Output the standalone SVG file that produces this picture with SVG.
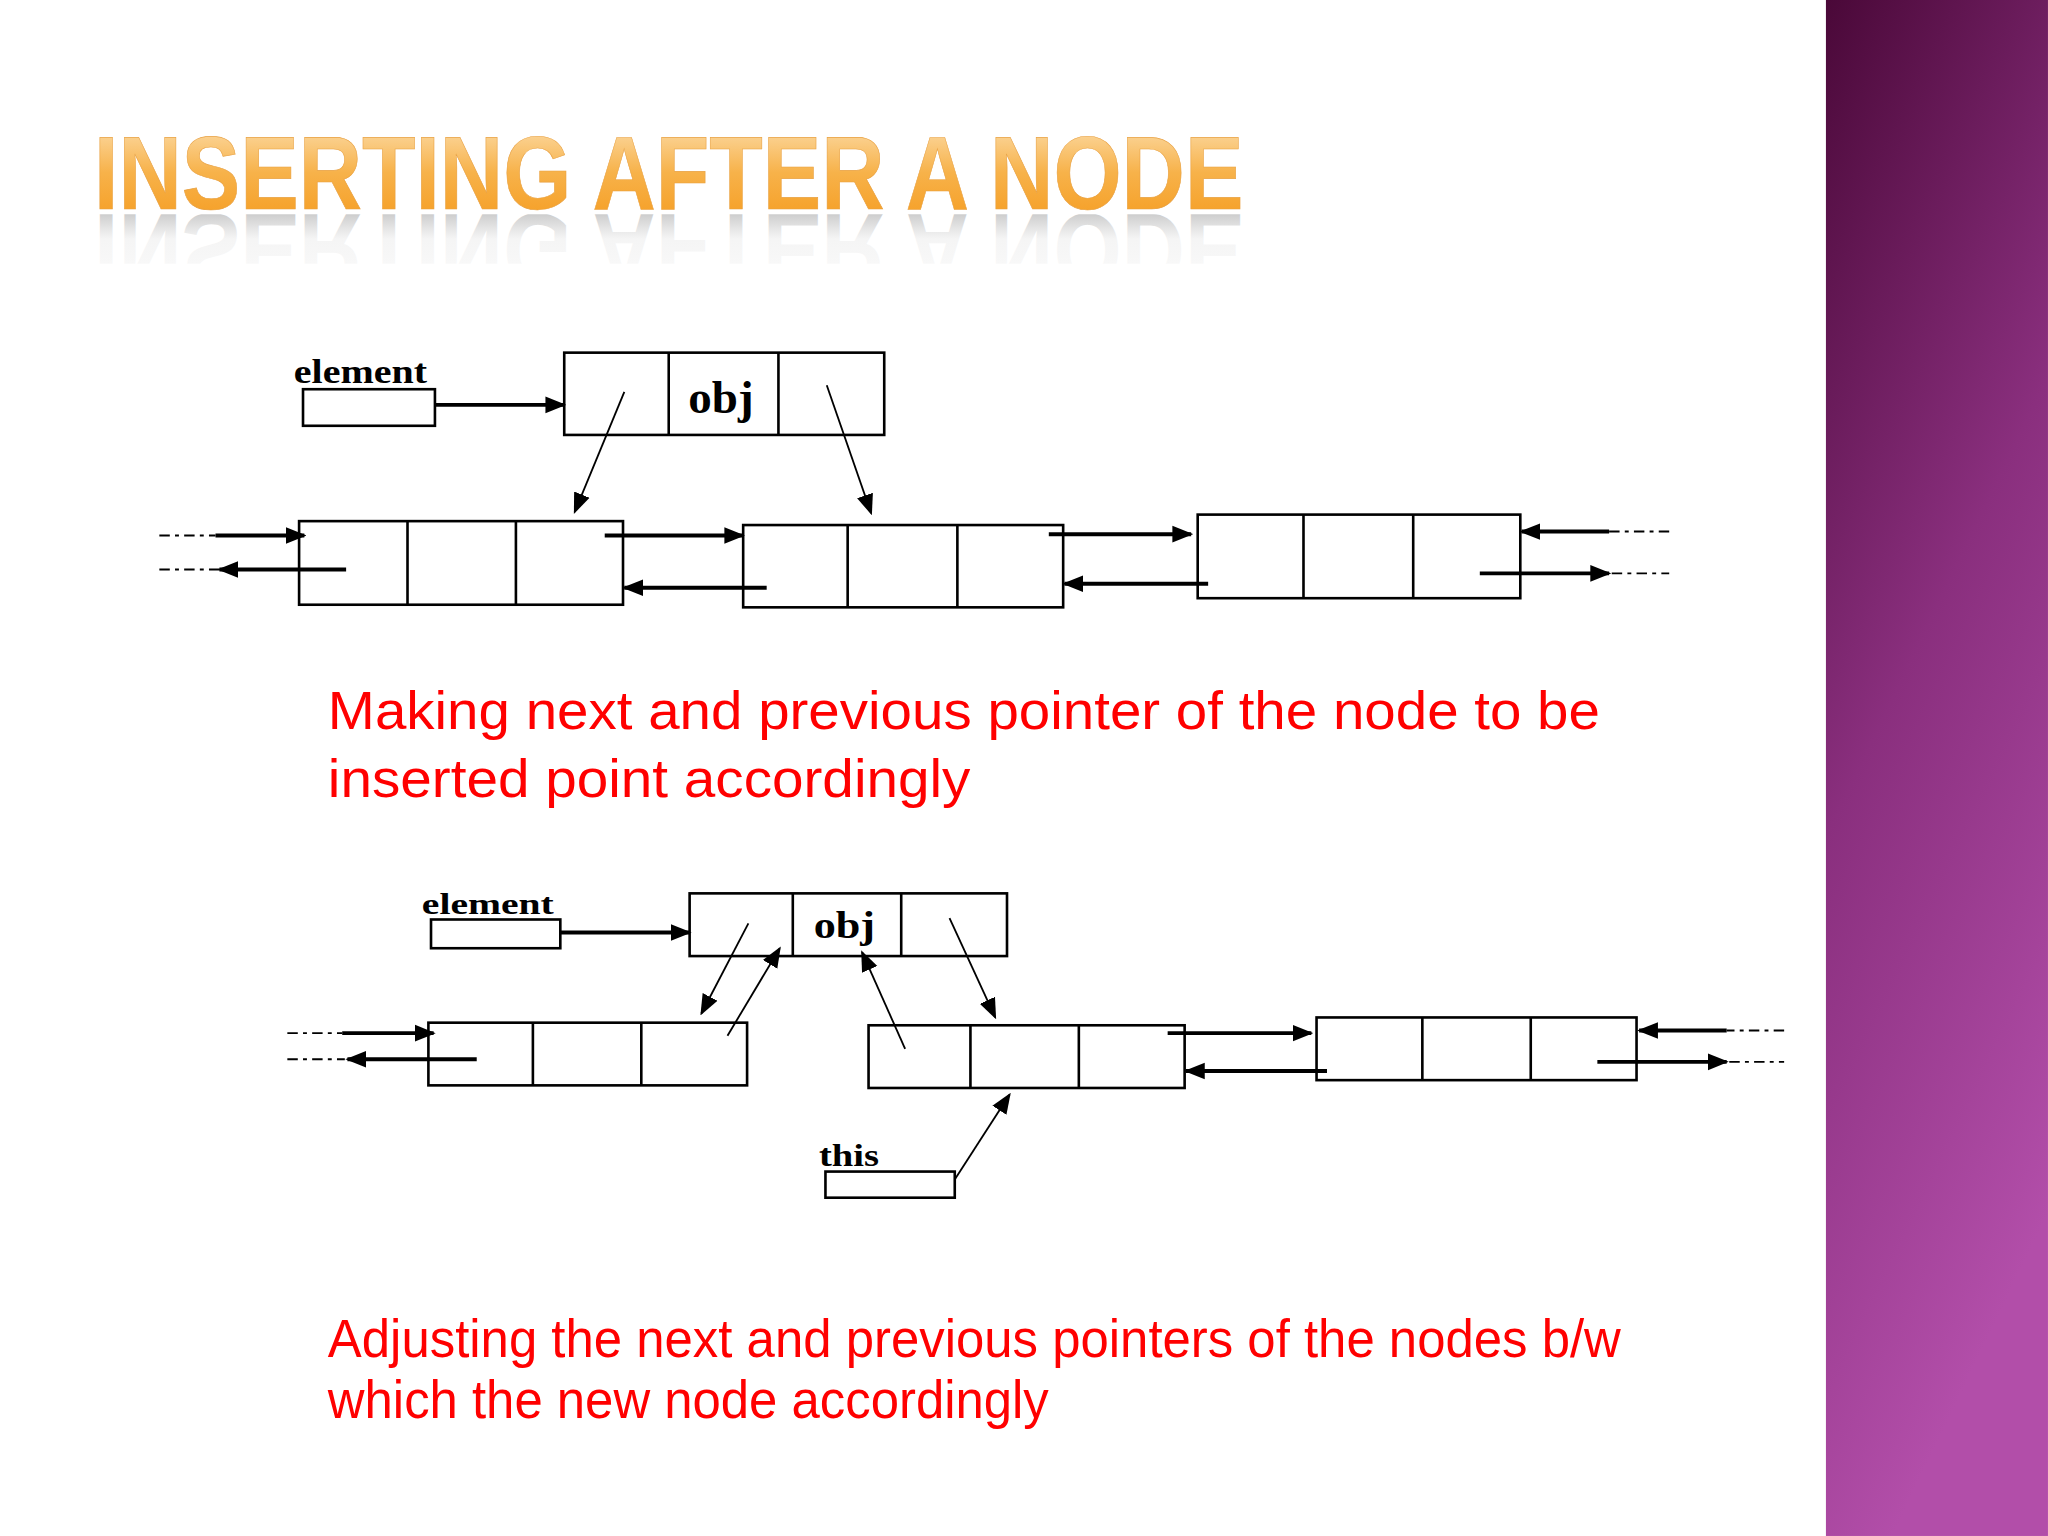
<svg xmlns="http://www.w3.org/2000/svg" width="2048" height="1536" viewBox="0 0 2048 1536">
<defs>
<linearGradient id="band" x1="0" y1="0" x2="0.3" y2="1"><stop offset="0" stop-color="#4a0838"/><stop offset="0.5" stop-color="#8a2f7e"/><stop offset="1" stop-color="#b24ea9"/></linearGradient>
<linearGradient id="title" x1="0" y1="0" x2="0" y2="1"><stop offset="0" stop-color="#fde3b8"/><stop offset="0.5" stop-color="#f7b24a"/><stop offset="1" stop-color="#f59a1c"/></linearGradient>
<linearGradient id="refl" x1="0" y1="0" x2="0" y2="1"><stop offset="0" stop-color="#888" stop-opacity="0"/><stop offset="0.6" stop-color="#999" stop-opacity="0.1"/><stop offset="1" stop-color="#777" stop-opacity="0.7"/></linearGradient>
<clipPath id="rc"><rect x="0" y="164" width="1000" height="38"/></clipPath>
<marker id="ah" viewBox="0 0 10 10" refX="9" refY="5" markerWidth="11" markerHeight="11" markerUnits="userSpaceOnUse" orient="auto"><path d="M0,1 L10,5 L0,9 Z" fill="#000"/></marker>
<marker id="ahb" viewBox="0 0 10 10" refX="9" refY="5" markerWidth="16" markerHeight="16" markerUnits="userSpaceOnUse" orient="auto"><path d="M0,1 L10,5 L0,9 Z" fill="#000"/></marker>
</defs>
<style>
.box{fill:#fff;stroke:#000;stroke-width:2}
.dv{stroke:#000;stroke-width:2}
.lbl{font-family:"Liberation Serif",serif;font-weight:bold;fill:#000}
.obj{font-family:"Liberation Serif",serif;font-weight:bold;fill:#000}
.c{stroke:#000;stroke-width:1.4;fill:none}
.t{stroke:#000;stroke-width:3;fill:none}
.d{stroke:#000;stroke-width:1.5;stroke-dasharray:8 4 3 4;fill:none}
.cap{font-family:"Liberation Sans",Arial,sans-serif;font-size:41px;fill:#f00}
</style>
<rect width="2048" height="1536" fill="#fff"/>
<g transform="scale(1.3061)">
<rect x="1398" y="0" width="170" height="1176" fill="url(#band)"/>
<g id="title">
<text x="72" y="160" font-family="Liberation Sans,Arial,sans-serif" font-weight="bold" font-size="80" textLength="880" lengthAdjust="spacingAndGlyphs" fill="url(#title)" stroke="#e8a040" stroke-width="0.5">INSERTING AFTER A NODE</text>
<g clip-path="url(#rc)"><text x="72" y="160" transform="translate(0,324) scale(1,-1)" font-family="Liberation Sans,Arial,sans-serif" font-weight="bold" font-size="80" textLength="880" lengthAdjust="spacingAndGlyphs" fill="url(#refl)">INSERTING AFTER A NODE</text></g>
</g>
<!-- diagram 1 -->
<g id="d1-element"><text class="lbl" x="225" y="293" font-size="26" textLength="102" lengthAdjust="spacingAndGlyphs">element</text><rect class="box" x="232" y="298" width="101" height="28"/></g>
<g id="d1-obj"><rect class="box" x="432" y="270" width="245" height="63"/><line class="dv" x1="512" y1="270" x2="512" y2="333"/><line class="dv" x1="596" y1="270" x2="596" y2="333"/><text class="obj" x="527" y="316" font-size="36" textLength="50" lengthAdjust="spacingAndGlyphs">obj</text></g>
<g id="d1-a"><rect class="box" x="229" y="399" width="248" height="64"/><line class="dv" x1="312" y1="399" x2="312" y2="463"/><line class="dv" x1="395" y1="399" x2="395" y2="463"/></g>
<g id="d1-b"><rect class="box" x="569" y="402" width="245" height="63"/><line class="dv" x1="649" y1="402" x2="649" y2="465"/><line class="dv" x1="733" y1="402" x2="733" y2="465"/></g>
<g id="d1-c"><rect class="box" x="917" y="394" width="247" height="64"/><line class="dv" x1="998" y1="394" x2="998" y2="458"/><line class="dv" x1="1082" y1="394" x2="1082" y2="458"/></g>
<g id="d1-connectors">
<line class="t" x1="333" y1="310" x2="432" y2="310" marker-end="url(#ahb)"/>
<line class="c" x1="478" y1="300" x2="440" y2="392" marker-end="url(#ahb)"/>
<line class="c" x1="633" y1="295" x2="667" y2="393" marker-end="url(#ahb)"/>
<line class="d" x1="122" y1="410" x2="165" y2="410"/><line class="t" x1="165" y1="410" x2="233" y2="410" marker-end="url(#ahb)"/>
<line class="d" x1="122" y1="436" x2="168" y2="436"/><line class="t" x1="265" y1="436" x2="168" y2="436" marker-end="url(#ahb)"/>
<line class="t" x1="463" y1="410" x2="569" y2="410" marker-end="url(#ahb)"/>
<line class="t" x1="587" y1="450" x2="478" y2="450" marker-end="url(#ahb)"/>
<line class="t" x1="803" y1="409" x2="912" y2="409" marker-end="url(#ahb)"/>
<line class="t" x1="925" y1="447" x2="815" y2="447" marker-end="url(#ahb)"/>
<line class="d" x1="1278" y1="407" x2="1232" y2="407"/><line class="t" x1="1232" y1="407" x2="1165" y2="407" marker-end="url(#ahb)"/>
<line class="t" x1="1133" y1="439" x2="1232" y2="439" marker-end="url(#ahb)"/><line class="d" x1="1234" y1="439" x2="1278" y2="439"/>
</g>
<g id="cap1"><text class="cap" x="251" y="558" textLength="974" lengthAdjust="spacingAndGlyphs">Making next and previous pointer of the node to be</text><text class="cap" x="251" y="610" textLength="492" lengthAdjust="spacingAndGlyphs">inserted point accordingly</text></g>
<!-- diagram 2 -->
<g id="d2-element"><text class="lbl" x="323" y="700" font-size="22" textLength="101" lengthAdjust="spacingAndGlyphs">element</text><rect class="box" x="330" y="704" width="99" height="22"/></g>
<g id="d2-obj"><rect class="box" x="528" y="684" width="243" height="48"/><line class="dv" x1="607" y1="684" x2="607" y2="732"/><line class="dv" x1="690" y1="684" x2="690" y2="732"/><text class="obj" x="623" y="718" font-size="29" textLength="47" lengthAdjust="spacingAndGlyphs">obj</text></g>
<g id="d2-a"><rect class="box" x="328" y="783" width="244" height="48"/><line class="dv" x1="408" y1="783" x2="408" y2="831"/><line class="dv" x1="491" y1="783" x2="491" y2="831"/></g>
<g id="d2-b"><rect class="box" x="665" y="785" width="242" height="48"/><line class="dv" x1="743" y1="785" x2="743" y2="833"/><line class="dv" x1="826" y1="785" x2="826" y2="833"/></g>
<g id="d2-c"><rect class="box" x="1008" y="779" width="245" height="48"/><line class="dv" x1="1089" y1="779" x2="1089" y2="827"/><line class="dv" x1="1172" y1="779" x2="1172" y2="827"/></g>
<g id="d2-this"><text class="lbl" x="627" y="893" font-size="24" textLength="46" lengthAdjust="spacingAndGlyphs">this</text><rect class="box" x="632" y="897" width="99" height="20"/></g>
<g id="d2-connectors">
<line class="t" x1="429" y1="714" x2="528" y2="714" marker-end="url(#ahb)"/>
<line class="c" x1="573" y1="707" x2="537" y2="776" marker-end="url(#ahb)"/>
<line class="c" x1="557" y1="793" x2="597" y2="726" marker-end="url(#ahb)"/>
<line class="c" x1="693" y1="803" x2="660" y2="729" marker-end="url(#ahb)"/>
<line class="c" x1="727" y1="703" x2="762" y2="779" marker-end="url(#ahb)"/>
<line class="d" x1="220" y1="791" x2="262" y2="791"/><line class="t" x1="262" y1="791" x2="332" y2="791" marker-end="url(#ahb)"/>
<line class="d" x1="220" y1="811" x2="264" y2="811"/><line class="t" x1="365" y1="811" x2="266" y2="811" marker-end="url(#ahb)"/>
<line class="t" x1="894" y1="791" x2="1004" y2="791" marker-end="url(#ahb)"/>
<line class="t" x1="1016" y1="820" x2="908" y2="820" marker-end="url(#ahb)"/>
<line class="d" x1="1366" y1="789" x2="1322" y2="789"/><line class="t" x1="1322" y1="789" x2="1255" y2="789" marker-end="url(#ahb)"/>
<line class="t" x1="1223" y1="813" x2="1322" y2="813" marker-end="url(#ahb)"/><line class="d" x1="1324" y1="813" x2="1366" y2="813"/>
<line class="c" x1="731" y1="903" x2="773" y2="838" marker-end="url(#ahb)"/>
</g>
<g id="cap2"><text class="cap" x="251" y="1039" textLength="990" lengthAdjust="spacingAndGlyphs">Adjusting the next and previous pointers of the nodes b/w</text><text class="cap" x="251" y="1086" textLength="552" lengthAdjust="spacingAndGlyphs">which the new node accordingly</text></g>
</g>
</svg>
